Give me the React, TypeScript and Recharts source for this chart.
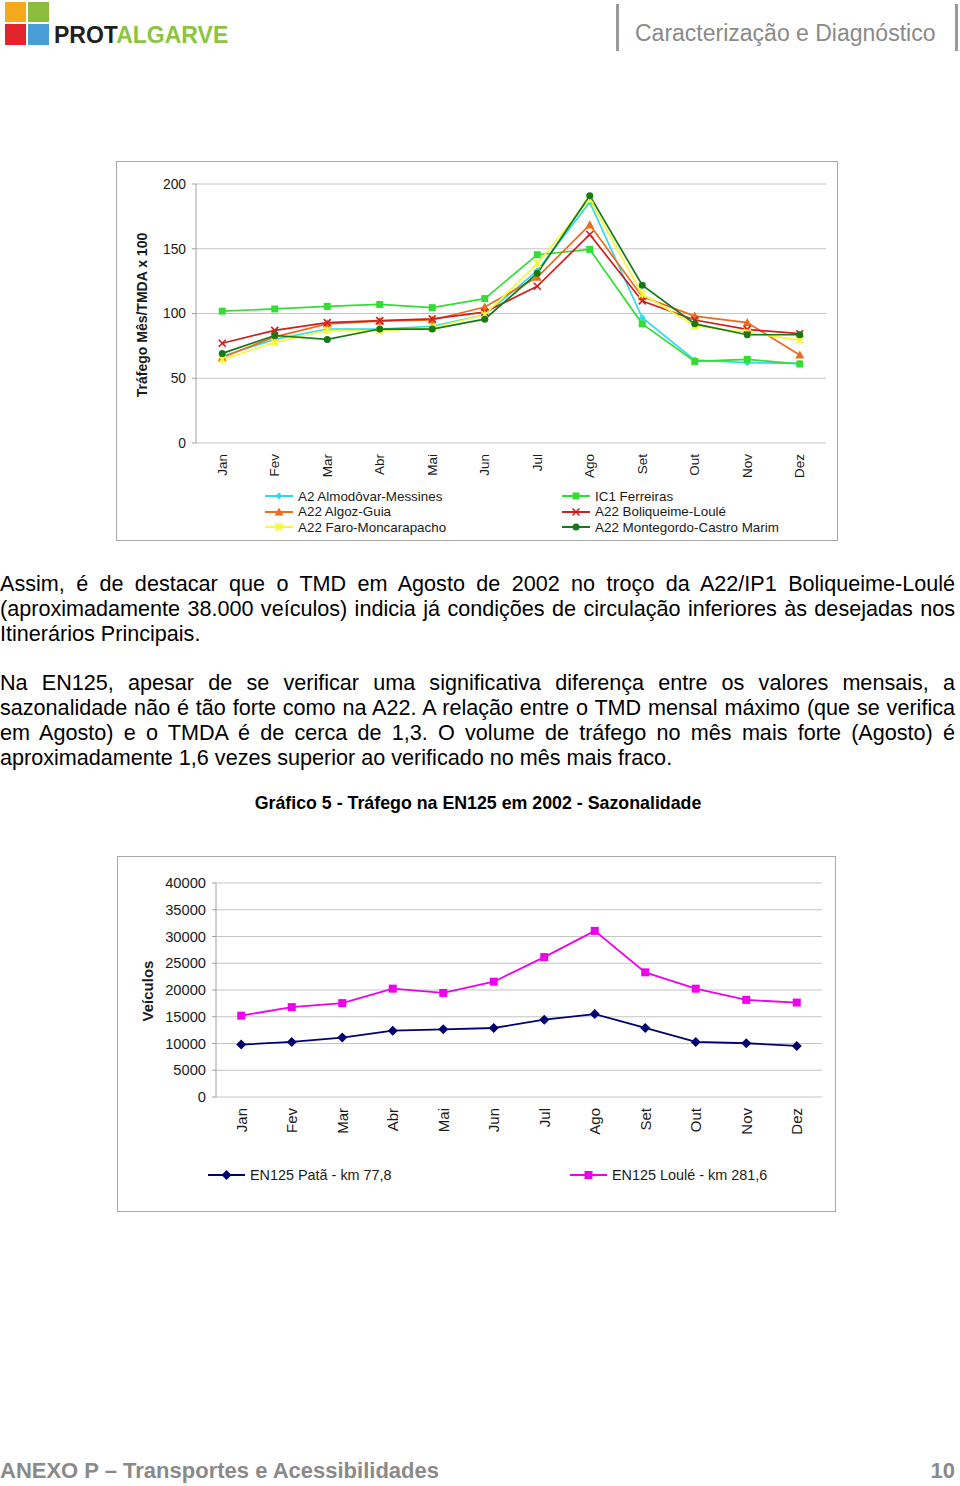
import React from "react";
import { CartesianGrid, Line, LineChart, XAxis, YAxis } from "recharts";

const months = ["Jan", "Fev", "Mar", "Abr", "Mai", "Jun", "Jul", "Ago", "Set", "Out", "Nov", "Dez"];

// Gráfico A22 / A2 / IC1 - tráfego mês / TMDA x 100
const almodovar = [67, 80, 88, 88, 90, 99, 133, 186, 96.7, 64, 62, 61.5];
const ferreiras = [101.8, 103.5, 105.5, 107, 104.5, 111.5, 145.4, 149.5, 92, 63, 64.6, 61];
const algoz = [66, 82, 92, 94, 95, 105, 128, 168.5, 113, 98, 93, 68];
const boliqueime = [77, 87, 93, 94.5, 95.8, 101, 121, 161, 109.7, 95, 87.7, 84.4];
const faro = [64.5, 77.6, 87, 86.6, 89, 99, 138.5, 188, 115, 90.5, 85.4, 79.5];
const montegordo = [69.2, 83, 80, 88, 88, 95.6, 131, 191, 121.8, 92, 83.6, 83.6];
const ticks1 = [0, 50, 100, 150, 200];

// Gráfico 5 - EN125
const pata = [9800, 10300, 11100, 12400, 12650, 12900, 14450, 15500, 12900, 10300, 10050, 9550];
const loule = [15200, 16800, 17550, 20250, 19450, 21550, 26150, 31050, 23300, 20250, 18150, 17650];
const ticks2 = [0, 5000, 10000, 15000, 20000, 25000, 30000, 35000, 40000];

const bounds = [0, 1, 2, 3, 4, 5, 6, 7, 8, 9, 10, 11, 12];

type Shape = "diamond" | "square" | "triangle" | "cross" | "star" | "circle";

const series1: { key: string; name: string; values: number[]; color: string; shape: Shape }[] = [
  { key: "almodovar", name: "A2 Almodôvar-Messines", values: almodovar, color: "#33d8ee", shape: "diamond" },
  { key: "ferreiras", name: "IC1 Ferreiras", values: ferreiras, color: "#33dd33", shape: "square" },
  { key: "algoz", name: "A22 Algoz-Guia", values: algoz, color: "#ee6a1e", shape: "triangle" },
  { key: "boliqueime", name: "A22 Boliqueime-Loulé", values: boliqueime, color: "#cc2020", shape: "cross" },
  { key: "faro", name: "A22 Faro-Moncarapacho", values: faro, color: "#f6f63a", shape: "star" },
  { key: "montegordo", name: "A22 Montegordo-Castro Marim", values: montegordo, color: "#147a14", shape: "circle" },
];

const series2: { key: string; name: string; values: number[]; color: string; shape: Shape }[] = [
  { key: "pata", name: "EN125 Patã - km 77,8", values: pata, color: "#000070", shape: "diamond" },
  { key: "loule", name: "EN125 Loulé - km 281,6", values: loule, color: "#ee00ee", shape: "square" },
];

const rows1 = months.map((m, i) => {
  const r: any = { month: m, idx: i };
  series1.forEach((s) => (r[s.key] = s.values[i]));
  return r;
});
const rows2 = months.map((m, i) => {
  const r: any = { month: m, idx: i };
  series2.forEach((s) => (r[s.key] = s.values[i]));
  return r;
});

function Marker({ shape, cx, cy, color, size }: { shape: Shape; cx: number; cy: number; color: string; size: number }) {
  const r = size / 2;
  switch (shape) {
    case "diamond":
      return <polygon points={`${cx},${cy - r} ${cx + r},${cy} ${cx},${cy + r} ${cx - r},${cy}`} fill={color} />;
    case "square":
      return <rect x={cx - r} y={cy - r} width={size} height={size} fill={color} />;
    case "triangle":
      return <polygon points={`${cx},${cy - r} ${cx + r},${cy + r * 0.8} ${cx - r},${cy + r * 0.8}`} fill={color} />;
    case "cross":
      return (
        <g stroke={color} strokeWidth={1.6}>
          <line x1={cx - r} y1={cy - r} x2={cx + r} y2={cy + r} />
          <line x1={cx - r} y1={cy + r} x2={cx + r} y2={cy - r} />
        </g>
      );
    case "star":
      return (
        <g stroke={color} strokeWidth={1.8}>
          <line x1={cx - r} y1={cy - r} x2={cx + r} y2={cy + r} />
          <line x1={cx - r} y1={cy + r} x2={cx + r} y2={cy - r} />
          <line x1={cx} y1={cy - r} x2={cx} y2={cy + r} />
        </g>
      );
    default:
      return <circle cx={cx} cy={cy} r={r} fill={color} />;
  }
}

function MonthTick({ x, y, payload, gap, fontSize }: any) {
  const ty = y + gap;
  return (
    <text
      x={x}
      y={ty}
      transform={`rotate(-90 ${x} ${ty})`}
      textAnchor="end"
      dy="0.35em"
      fontSize={fontSize}
      fill="#1a1a1a"
      fontFamily="'Liberation Sans', Arial, sans-serif"
    >
      {payload.value}
    </text>
  );
}

function LegendItem({ s, left, top, lineW, size, fontSize }: any) {
  return (
    <div style={{ position: "absolute", left, top, display: "flex", alignItems: "center", height: 16 }}>
      <svg width={lineW} height={14} style={{ display: "block" }}>
        <line x1={0} y1={7} x2={lineW} y2={7} stroke={s.color} strokeWidth={2} />
        <Marker shape={s.shape} cx={lineW / 2} cy={7} color={s.color} size={size} />
      </svg>
      <span style={{ marginLeft: 5, fontSize, color: "#1a1a1a", whiteSpace: "nowrap" }}>{s.name}</span>
    </div>
  );
}

const font = "'Liberation Sans', Arial, Helvetica, sans-serif";

function Lines({ lines, fontSize, top }: { lines: string[]; fontSize: number; top: number }) {
  return (
    <div style={{ position: "absolute", left: 0, top, width: 955, fontSize, lineHeight: "25px", color: "#000" }}>
      {lines.map((l, i) => (
        <div key={i} style={{ textAlign: "justify", textAlignLast: i < lines.length - 1 ? "justify" : "left" }}>
          {l}
        </div>
      ))}
    </div>
  );
}

const para1 = [
  "Assim, é de destacar que o TMD em Agosto de 2002 no troço da A22/IP1 Boliqueime-Loulé",
  "(aproximadamente 38.000 veículos) indicia já condições de circulação inferiores às desejadas nos",
  "Itinerários Principais.",
];
const para2 = [
  "Na EN125, apesar de se verificar uma significativa diferença entre os valores mensais, a",
  "sazonalidade não é tão forte como na A22. A relação entre o TMD mensal máximo (que se verifica",
  "em Agosto) e o TMDA é de cerca de 1,3. O volume de tráfego no mês mais forte (Agosto) é",
  "aproximadamente 1,6 vezes superior ao verificado no mês mais fraco.",
];

export default function App() {
  return (
    <div style={{ position: "absolute", left: 0, top: 0, width: 960, height: 1486, background: "#fff", fontFamily: font, overflow: "hidden" }}>
      {/* header */}
      <div style={{ position: "absolute", left: 5, top: 2, width: 21, height: 20, background: "#f6a91c" }} />
      <div style={{ position: "absolute", left: 28, top: 2, width: 21, height: 20, background: "#8cbc3d" }} />
      <div style={{ position: "absolute", left: 5, top: 24, width: 21, height: 21, background: "#e2252c" }} />
      <div style={{ position: "absolute", left: 28, top: 24, width: 21, height: 21, background: "#4a9ed8" }} />
      <div style={{ position: "absolute", left: 54, top: 24, fontSize: 23, lineHeight: "23px", fontWeight: 700 }}>
        <span style={{ color: "#231f20" }}>PROT</span>
        <span style={{ color: "#8cc43f" }}>ALGARVE</span>
      </div>
      <div style={{ position: "absolute", left: 616, top: 4, width: 3, height: 47, background: "#9a9a9a" }} />
      <div style={{ position: "absolute", left: 955, top: 4, width: 3, height: 47, background: "#9a9a9a" }} />
      <div style={{ position: "absolute", left: 635, top: 21, fontSize: 23, lineHeight: "25px", color: "#8a8a8a" }}>
        Caracterização e Diagnóstico
      </div>

      {/* chart 1 */}
      <div style={{ position: "absolute", left: 116, top: 161, width: 722, height: 380, border: "1px solid #a8a8a8", boxSizing: "border-box" }}>
        <div style={{ position: "absolute", left: -1, top: -1 }}>
          <LineChart width={722} height={380} data={rows1} margin={{ top: 23, right: 12, left: 0, bottom: 0 }}>
            <CartesianGrid vertical={false} stroke="#c4c4c4" />
            <XAxis xAxisId="b" dataKey="idx" type="number" domain={[0, 12]} ticks={bounds} allowDataOverflow tick={false} height={0} stroke="#a0a0a0" tickSize={5} />
            <XAxis
              dataKey="month"
              scale="band"
              height={98}
              interval={0}
              axisLine={false}
              tickLine={false}
              tickSize={0}
              tickMargin={0}
              tick={<MonthTick gap={11} fontSize={13.5} />}
            />
            <YAxis
              domain={[0, 200]}
              ticks={ticks1}
              width={80}
              stroke="#a0a0a0"
              tickSize={4}
              tickMargin={6}
              tick={{ fill: "#1a1a1a", fontSize: 13.8 }}
            />
            {series1.map((s) => (
              <Line
                key={s.key}
                dataKey={s.key}
                name={s.name}
                type="linear"
                stroke={s.color}
                strokeWidth={1.7}
                isAnimationActive={false}
                dot={(p: any) => <Marker key={p.index} shape={s.shape} cx={p.cx} cy={p.cy} color={s.color} size={s.shape === "triangle" ? 9 : 7} />}
                activeDot={false}
              />
            ))}
          </LineChart>
        </div>
      </div>
      <div
        style={{ position: "absolute", left: 142, top: 315, transform: "translate(-50%, -50%) rotate(-90deg)", fontSize: 14, fontWeight: 700, whiteSpace: "nowrap", color: "#1a1a1a" }}
      >
        Tráfego Mês/TMDA x 100
      </div>
      {series1.map((s, i) => (
        <LegendItem
          key={s.key}
          s={s}
          left={i % 2 === 0 ? 265 : 562}
          top={488 + Math.floor(i / 2) * 15.5}
          lineW={28}
          size={s.shape === "triangle" ? 9 : 7}
          fontSize={13.4}
        />
      ))}

      {/* text */}
      <Lines lines={para1} fontSize={21.6} top={571} />
      <Lines lines={para2} fontSize={21.6} top={670} />

      <div style={{ position: "absolute", left: 0, width: 956, top: 792, textAlign: "center", fontSize: 17.8, fontWeight: 700, lineHeight: "22px" }}>
        Gráfico 5 - Tráfego na EN125 em 2002 - Sazonalidade
      </div>

      {/* chart 2 */}
      <div style={{ position: "absolute", left: 117, top: 856, width: 719, height: 356, border: "1px solid #a8a8a8", boxSizing: "border-box" }}>
        <div style={{ position: "absolute", left: -1, top: -1 }}>
          <LineChart width={719} height={356} data={rows2} margin={{ top: 27, right: 14, left: 0, bottom: 0 }}>
            <CartesianGrid vertical={false} stroke="#c4c4c4" />
            <XAxis xAxisId="b" dataKey="idx" type="number" domain={[0, 12]} ticks={bounds} allowDataOverflow tick={false} height={0} stroke="#a0a0a0" tickSize={5} />
            <XAxis
              dataKey="month"
              scale="band"
              height={115}
              interval={0}
              axisLine={false}
              tickLine={false}
              tickSize={0}
              tickMargin={0}
              tick={<MonthTick gap={11} fontSize={15} />}
            />
            <YAxis
              domain={[0, 40000]}
              ticks={ticks2}
              width={99}
              stroke="#a0a0a0"
              tickSize={4}
              tickMargin={6}
              tick={{ fill: "#1a1a1a", fontSize: 14.7 }}
            />
            {series2.map((s) => (
              <Line
                key={s.key}
                dataKey={s.key}
                name={s.name}
                type="linear"
                stroke={s.color}
                strokeWidth={1.8}
                isAnimationActive={false}
                dot={(p: any) => <Marker key={p.index} shape={s.shape} cx={p.cx} cy={p.cy} color={s.color} size={s.shape === "diamond" ? 10 : 8} />}
                activeDot={false}
              />
            ))}
          </LineChart>
        </div>
      </div>
      <div
        style={{ position: "absolute", left: 147, top: 991, transform: "translate(-50%, -50%) rotate(-90deg)", fontSize: 15, fontWeight: 700, whiteSpace: "nowrap", color: "#1a1a1a" }}
      >
        Veículos
      </div>
      {series2.map((s, i) => (
        <LegendItem key={s.key} s={s} left={i === 0 ? 208 : 570} top={1167} lineW={37} size={s.shape === "diamond" ? 10 : 8} fontSize={14.4} />
      ))}

      {/* footer */}
      <div style={{ position: "absolute", left: 0, top: 1459, fontSize: 22, lineHeight: "24px", fontWeight: 700, color: "#8a8a8a" }}>
        ANEXO P – Transportes e Acessibilidades
      </div>
      <div style={{ position: "absolute", right: 5, top: 1459, fontSize: 22, lineHeight: "24px", fontWeight: 700, color: "#8a8a8a" }}>10</div>
    </div>
  );
}
